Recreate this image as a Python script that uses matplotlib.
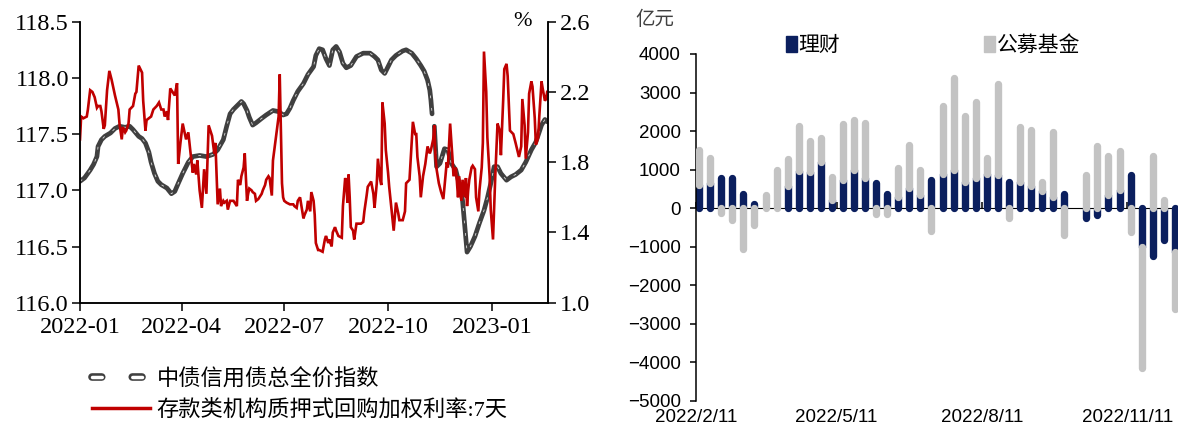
import numpy as np
import pandas as pd
import matplotlib
matplotlib.use("Agg")
import matplotlib.pyplot as plt
import matplotlib.dates as mdates
from matplotlib.lines import Line2D
from matplotlib.patches import Patch
from matplotlib.legend_handler import HandlerTuple

plt.rcParams['lines.scale_dashes'] = False

# ---- left panel data (days counted from 2022-01-01) ----
index_days = [0, 4, 9, 12, 15, 16, 19, 22, 27, 31, 35, 40, 44, 47, 52, 55, 58, 61, 63, 66,
              69, 72, 77, 81, 84, 87, 91, 96, 100, 106, 112, 118, 122, 127, 130, 133, 136, 140,
              143, 145, 148, 150, 153, 156, 161, 165, 171, 176, 180, 183, 186, 189, 193, 198,
              202, 207, 209, 212, 215, 218, 221, 224, 227, 230, 233, 236, 240, 245, 251, 257,
              261, 264, 267, 270, 273, 276, 280, 286, 289, 294, 298, 302, 305, 308, 310, 311,
              312, 313, 314, 316, 319, 323, 326, 329, 333, 336, 339, 341, 343, 346, 350, 354,
              358, 361, 364, 367, 370, 373, 378, 382, 386, 391, 395, 400, 404, 409, 412, 414]
index_vals = [117.08, 117.11, 117.18, 117.23, 117.30, 117.39, 117.45, 117.48, 117.51, 117.55,
              117.57, 117.56, 117.57, 117.54, 117.48, 117.46, 117.42, 117.34, 117.25, 117.15,
              117.08, 117.05, 117.02, 116.97, 116.99, 117.06, 117.15, 117.25, 117.30, 117.31,
              117.30, 117.32, 117.36, 117.45, 117.57, 117.68, 117.72, 117.76, 117.79, 117.77,
              117.71, 117.65, 117.58, 117.60, 117.64, 117.67, 117.71, 117.70, 117.67, 117.68,
              117.73, 117.80, 117.88, 117.95, 118.03, 118.10, 118.20, 118.26, 118.25, 118.17,
              118.11, 118.25, 118.28, 118.23, 118.13, 118.09, 118.11, 118.19, 118.22, 118.22,
              118.19, 118.16, 118.07, 118.04, 118.10, 118.16, 118.20, 118.24, 118.25, 118.22,
              118.17, 118.11, 118.06, 117.98, 117.89, 117.80, 117.68, np.nan, 117.57, 117.21,
              117.24, 117.37, 117.36, 117.24, 117.18, 117.06, 116.91, 116.68, 116.45, 116.50,
              116.59, 116.71, 116.82, 116.93, 117.06, 117.21, 117.21, 117.15, 117.09, 117.12,
              117.14, 117.18, 117.25, 117.36, 117.43, 117.58, 117.63, 117.61]

repo_days = [0, 1, 3, 6, 7, 9, 11, 13, 15, 16, 18, 19, 21, 22, 24, 26, 28, 31, 34, 35, 37, 38,
             40, 41, 43, 44, 47, 49, 50, 52, 55, 56, 58, 59, 61, 63, 65, 68, 70, 72, 74, 75, 77,
             78, 80, 82, 84, 86, 87, 89, 91, 94, 96, 98, 100, 101, 103, 104, 106, 108, 110, 112,
             114, 117, 119, 120, 122, 124, 125, 127, 128, 130, 131, 133, 134, 136, 139, 140, 142,
             143, 145, 146, 148, 149, 150, 152, 153, 155, 156, 158, 159, 161, 162, 164, 165, 167,
             168, 170, 171, 173, 174, 176, 177, 178, 179, 180, 181, 183, 186, 189, 190, 192, 193,
             195, 196, 198, 199, 201, 202, 204, 205, 207, 208, 209, 211, 212, 215, 217, 218, 220,
             221, 223, 224, 226, 227, 229, 232, 233, 235, 236, 237, 238, 239, 240, 242, 243, 245,
             246, 249, 251, 252, 254, 255, 257, 258, 260, 261, 263, 264, 266, 267, 268, 270, 271,
             273, 274, 278, 280, 282, 283, 286, 288, 289, 292, 295, 297, 298, 299, 301, 302, 304,
             306, 308, 310, 311, 313, 314, 315, 316, 318, 320, 322, 323, 325, 326, 328, 330, 331,
             333, 334, 335, 336, 338, 339, 341, 342, 343, 344, 345, 347, 348, 350, 351, 353, 354,
             356, 357, 358, 360, 361, 363, 364, 366, 368, 370, 372, 373, 375, 376, 378, 379, 381,
             384, 386, 389, 391, 392, 394, 395, 397, 398, 400, 401, 403, 404, 406, 407, 409, 410,
             412, 413, 414]
repo_vals = [1.93, 2.06, 2.05, 2.06, 2.10, 2.21, 2.20, 2.17, 2.11, 2.12, 2.12, 2.09, 1.99, 2.01,
             2.21, 2.32, 2.27, 2.18, 2.10, 2.02, 1.93, 2.00, 1.97, 1.98, 2.02, 2.10, 2.12, 2.19,
             2.20, 2.35, 2.31, 2.15, 1.98, 2.04, 2.05, 2.06, 2.10, 2.12, 2.14, 2.10, 2.10, 2.06,
             2.09, 2.04, 2.22, 2.20, 2.18, 2.25, 1.79, 1.91, 2.02, 1.93, 1.97, 1.85, 1.74, 1.79,
             1.73, 1.81, 1.64, 1.54, 1.76, 1.62, 2.01, 1.95, 1.85, 1.91, 1.56, 1.65, 1.55, 1.58,
             1.57, 1.58, 1.53, 1.58, 1.58, 1.58, 1.55, 1.70, 1.67, 1.72, 1.77, 1.85, 1.58, 1.62,
             1.65, 1.64, 1.63, 1.62, 1.58, 1.59, 1.60, 1.62, 1.64, 1.67, 1.70, 1.72, 1.71, 1.61,
             1.81, 1.91, 1.96, 2.06, 2.30, 1.98, 1.68, 1.60, 1.58, 1.57, 1.56, 1.56, 1.55, 1.54,
             1.58, 1.60, 1.56, 1.48, 1.50, 1.53, 1.58, 1.52, 1.63, 1.58, 1.50, 1.34, 1.30, 1.30,
             1.29, 1.36, 1.38, 1.34, 1.36, 1.32, 1.40, 1.43, 1.41, 1.38, 1.37, 1.55, 1.71, 1.68,
             1.57, 1.73, 1.60, 1.43, 1.41, 1.36, 1.45, 1.45, 1.45, 1.46, 1.52, 1.61, 1.66, 1.68,
             1.69, 1.62, 1.54, 1.68, 1.82, 1.70, 1.67, 2.14, 2.02, 1.87, 1.74, 1.66, 1.41, 1.57,
             1.51, 1.47, 1.47, 1.52, 1.68, 1.70, 2.03, 1.96, 1.96, 1.83, 1.72, 1.60, 1.72, 1.79,
             1.89, 1.85, 1.87, 1.93, 2.01, 1.83, 1.76, 1.68, 1.63, 1.59, 1.66, 1.80, 1.77, 2.02,
             1.83, 1.72, 1.77, 1.69, 1.60, 1.72, 1.58, 1.70, 1.60, 1.71, 1.55, 1.64, 1.70, 1.77,
             1.78, 1.76, 1.60, 1.52, 1.64, 1.77, 1.91, 2.43, 2.20, 1.94, 1.72, 1.53, 1.36, 1.72,
             2.02, 1.98, 1.84, 2.15, 2.33, 2.36, 2.29, 1.98, 1.96, 1.91, 1.83, 1.89, 2.16, 2.01,
             1.82, 1.97, 2.19, 2.26, 2.23, 2.05, 1.90, 1.94, 2.06, 2.26, 2.22, 2.15, 2.16, 2.20]

left_ticks = ['2022-01-01', '2022-04-01', '2022-07-01', '2022-10-01', '2023-01-01']
index_name = '中债信用债总全价指数'
repo_name = '存款类机构质押式回购加权利率:7天'

# ---- right panel data (weekly, 亿元) ----
week_dates = pd.date_range('2022-02-13', periods=44, freq='7D')
wealth = [600, 640, 770, 790, 370, 110, 0, 0, 570, 970, 940, 1200, 210, 730, 1000, 770, 660,
          360, 300, 520, 330, 740, 880, 980, 690, 780, 890, 860, 690, 675, 580, 450, 300, 355,
          np.nan, -260, -190, 350, 480, 850, -1000, -1240, -840, -1130]
funds = [900, 670, -140, -300, -1060, -430, 340, 980, 710, 1170, 790, 610, 590, 1450, 1290,
         1450, -150, -150, 730, 1130, 660, -600, 1780, 2400, 1690, 1970, 400, 2360, -260, 1425,
         1440, 240, 1670, -690, np.nan, 870, 1620, 1010, 990, -620, -3160, 1360, 200, -1490]
right_ticks = ['2022-02-11', '2022-05-11', '2022-08-11', '2022-11-11']
right_tick_labels = ['2022/2/11', '2022/5/11', '2022/8/11', '2022/11/11']

serif = ['Liberation Serif', 'Noto Sans CJK SC']
sans = ['Liberation Sans', 'Noto Sans CJK SC']
navy = '#0b1f5e'
lgray = '#c3c3c3'
dark = '#404040'
red = '#c00000'

W, H = 1178, 432
fig = plt.figure(figsize=(W / 100, H / 100), dpi=100)

# ================= left panel =================
ax1 = fig.add_axes([80 / W, (H - 302.7) / H, 468.3 / W, 281 / H])
ax1r = ax1.twinx()

base = pd.Timestamp('2022-01-01')
idx_t = base + pd.to_timedelta(index_days, unit='D')
rep_t = base + pd.to_timedelta(repo_days, unit='D')

ax1.plot(idx_t, index_vals, color=dark, lw=3.4, solid_capstyle='round', solid_joinstyle='round')
ax1.plot(idx_t, index_vals, color='white', lw=0.6, dashes=(2, 7), alpha=0.8)
ax1r.plot(rep_t, repo_vals, color=red, lw=1.9, solid_joinstyle='miter')

ax1.set_xlim(pd.Timestamp('2022-01-01'), pd.Timestamp('2023-02-20'))
ax1.set_ylim(116.0, 118.5)
ax1r.set_ylim(1.0, 2.6)
ax1.set_yticks(np.arange(116.0, 118.51, 0.5))
ax1r.set_yticks(np.arange(1.0, 2.61, 0.4))
ax1.yaxis.set_major_formatter(matplotlib.ticker.FormatStrFormatter('%.1f'))
ax1r.yaxis.set_major_formatter(matplotlib.ticker.FormatStrFormatter('%.1f'))
ax1.set_xticks(pd.to_datetime(left_ticks))
ax1.xaxis.set_major_formatter(mdates.DateFormatter('%Y-%m'))

for a in (ax1, ax1r):
    a.spines['top'].set_visible(False)
    for s in ('left', 'right', 'bottom'):
        a.spines[s].set_linewidth(1.1)
    a.tick_params(length=6, width=1.1, labelsize=17.5, pad=2)
    for lab in a.get_xticklabels() + a.get_yticklabels():
        lab.set_family(serif)
ax1.tick_params(axis='x', pad=4)
ax1r.text(0.944, 1.0, '%', transform=ax1.transAxes, ha='center', va='center',
          fontsize=16, family=serif)

outer = Line2D([], [], color=dark, lw=5.5, dashes=(7, 22), dash_capstyle='round')
inner = Line2D([], [], color='white', lw=2.5, dashes=(7, 22), dash_capstyle='round')
redh = Line2D([], [], color=red, lw=2.5)
fig.legend([(outer, inner), redh], [index_name, repo_name], loc='upper left',
           bbox_to_anchor=(92 / W, (H - 369) / H), frameon=False, borderpad=0, borderaxespad=0,
           handlelength=2.6, handletextpad=0.3, labelspacing=0.42,
           handler_map={tuple: HandlerTuple(ndivide=1)},
           prop={'family': serif, 'size': 16})

# ================= right panel =================
ax2 = fig.add_axes([696 / W, (H - 400.7) / H, 482 / W, 346.7 / H])
w = np.array(wealth, dtype=float)
f = np.array(funds, dtype=float)
ok = ~np.isnan(w)
fbase = np.where(w * f > 0, w, 0.0)
ax2.vlines(week_dates[ok], 0, w[ok], colors=navy, lw=5.3, capstyle='round', zorder=2)
ax2.vlines(week_dates[ok], fbase[ok], fbase[ok] + f[ok], colors=lgray, lw=5.3,
           capstyle='round', zorder=3)

ax2.set_xlim(pd.Timestamp('2022-02-11'), pd.Timestamp('2022-12-13'))
ax2.set_ylim(-5000, 4000)
ax2.set_yticks(np.arange(-5000, 4001, 1000))
for s in ('top', 'right', 'bottom'):
    ax2.spines[s].set_visible(False)
ax2.spines['left'].set_linewidth(1.1)
ax2.tick_params(axis='y', length=4, width=1.1, labelsize=13.5, pad=7)
ax2.set_xticks(pd.to_datetime(right_ticks))
ax2.set_xticklabels(right_tick_labels)
ax2.tick_params(axis='x', length=0, labelsize=13.5, pad=6)
for lab in ax2.get_xticklabels() + ax2.get_yticklabels():
    lab.set_family(sans)

zero = ax2.secondary_xaxis(5000 / 9000)
zero.set_xticks(pd.to_datetime(right_ticks))
zero.set_xticklabels([])
zero.tick_params(length=4, width=1.1, direction='out')
zero.spines['bottom'].set_linewidth(1.1)
zero.spines['bottom'].set_color('#222222')

fig.text(655 / W, (H - 20) / H, '亿元', ha='center', va='center', fontsize=14,
         family=sans, color='#404040')
fig.legend([Patch(color=navy), Patch(color=lgray)], ['理财', '公募基金'], loc='center left',
           bbox_to_anchor=(786 / W, (H - 45) / H), ncol=2, frameon=False, borderpad=0,
           borderaxespad=0, handlelength=0.55, handleheight=0.8, handletextpad=0.05,
           columnspacing=6.9, prop={'family': sans, 'size': 15})

fig.savefig('out.png', dpi=100)
